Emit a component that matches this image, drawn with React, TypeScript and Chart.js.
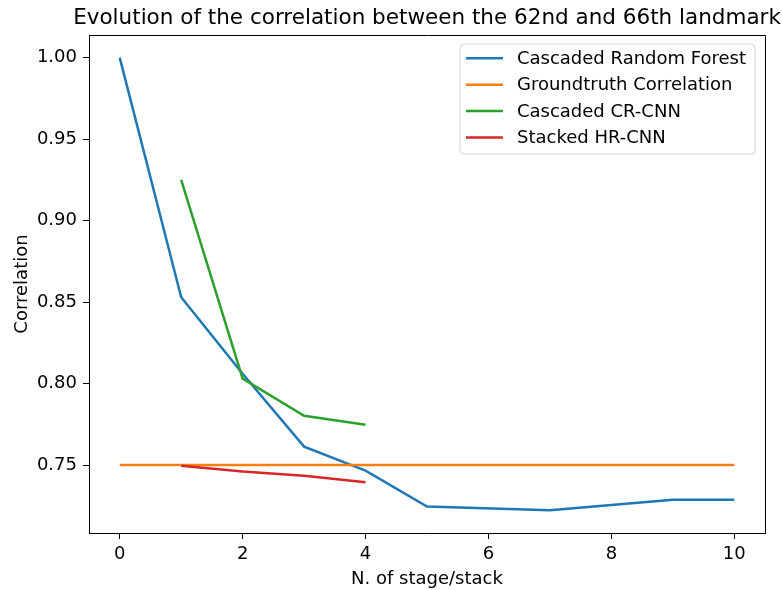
import React, { useEffect, useRef } from "react";
import { Chart, registerables } from "chart.js";

Chart.register(...registerables);

const TITLE = "Evolution of the correlation between the 62nd and 66th landmark";
const X_LABEL = "N. of stage/stack";
const Y_LABEL = "Correlation";

const seriesNames = [
  "Cascaded Random Forest",
  "Groundtruth Correlation",
  "Cascaded CR-CNN",
  "Stacked HR-CNN",
];
const seriesColors = ["#1f77b4", "#ff7f0e", "#2ca02c", "#d62728"];

const rfX = [0, 1, 2, 3, 4, 5, 7, 9, 10];
const rfY = [1.0, 0.853, 0.806, 0.7613, 0.7466, 0.7245, 0.7222, 0.7287, 0.7287];

const gtX = [0, 10];
const gtY = [0.75, 0.75];

const crX = [1, 2, 3, 4];
const crY = [0.925, 0.803, 0.7802, 0.7747];

const hrX = [1, 2, 3, 4];
const hrY = [0.7495, 0.746, 0.7434, 0.7395];

const xTicks = [0, 2, 4, 6, 8, 10];
const yTicks = [0.75, 0.8, 0.85, 0.9, 0.95, 1.0];

const FONT = "'DejaVu Sans', 'Liberation Sans', sans-serif";

function pts(xs: number[], ys: number[]) {
  return xs.map((x, i) => ({ x, y: ys[i] }));
}

const decorPlugin = {
  id: "decor",
  afterDraw(chart: any) {
    const { ctx, chartArea } = chart;
    const { left, right, top, bottom } = chartArea;
    ctx.save();
    // frame (top and right; left/bottom come from the axes borders)
    ctx.strokeStyle = "#000";
    ctx.lineWidth = 1;
    const L = Math.round(left - 0.5) + 0.5;
    const R = Math.round(right - 0.5) + 0.5;
    const T = Math.round(top - 0.5) + 0.5;
    const B = Math.round(bottom - 0.5) + 0.5;
    ctx.beginPath();
    ctx.moveTo(L, B);
    ctx.lineTo(L, T);
    ctx.lineTo(R, T);
    ctx.lineTo(R, B);
    ctx.stroke();
    // title
    ctx.fillStyle = "#000";
    ctx.font = `21.5px ${FONT}`;
    ctx.textAlign = "center";
    ctx.textBaseline = "alphabetic";
    ctx.fillText(TITLE, (left + right) / 2, 24);
    // x label
    ctx.font = `18px ${FONT}`;
    ctx.fillText(X_LABEL, (left + right) / 2, 584);
    // y label
    ctx.save();
    ctx.translate(27, (top + bottom) / 2);
    ctx.rotate(-Math.PI / 2);
    ctx.textAlign = "center";
    ctx.textBaseline = "alphabetic";
    ctx.fillText(Y_LABEL, 0, 0);
    ctx.restore();

    // legend
    ctx.font = `18px ${FONT}`;
    const datasets = chart.data.datasets;
    let maxW = 0;
    datasets.forEach((d: any) => {
      maxW = Math.max(maxW, ctx.measureText(d.label).width);
    });
    const boxW = 57 + maxW + 9;
    const boxR = right - 10;
    const boxL = boxR - boxW;
    const boxT = top + 9;
    const rowH = 26.4;
    const boxH = 110;
    const r = 4;
    ctx.beginPath();
    ctx.moveTo(boxL + r, boxT);
    ctx.lineTo(boxR - r, boxT);
    ctx.quadraticCurveTo(boxR, boxT, boxR, boxT + r);
    ctx.lineTo(boxR, boxT + boxH - r);
    ctx.quadraticCurveTo(boxR, boxT + boxH, boxR - r, boxT + boxH);
    ctx.lineTo(boxL + r, boxT + boxH);
    ctx.quadraticCurveTo(boxL, boxT + boxH, boxL, boxT + boxH - r);
    ctx.lineTo(boxL, boxT + r);
    ctx.quadraticCurveTo(boxL, boxT, boxL + r, boxT);
    ctx.closePath();
    ctx.fillStyle = "rgba(255,255,255,0.8)";
    ctx.fill();
    ctx.strokeStyle = "#d4d4d4";
    ctx.lineWidth = 1;
    ctx.stroke();
    datasets.forEach((d: any, i: number) => {
      const y = boxT + 14.3 + i * rowH;
      ctx.strokeStyle = d.borderColor;
      ctx.lineWidth = 2.5;
      ctx.beginPath();
      ctx.moveTo(boxL + 6, y);
      ctx.lineTo(boxL + 43, y);
      ctx.stroke();
      ctx.fillStyle = "#000";
      ctx.textAlign = "left";
      ctx.textBaseline = "middle";
      ctx.fillText(d.label, boxL + 57, y + 1);
    });
    ctx.restore();
  },
};

export default function App() {
  const canvasRef = useRef<HTMLCanvasElement | null>(null);

  useEffect(() => {
    document.body.style.margin = "0";
    const canvas = canvasRef.current;
    if (!canvas) return;
    const allX = [rfX, gtX, crX, hrX];
    const allY = [rfY, gtY, crY, hrY];
    const chart = new Chart(canvas, {
      type: "line",
      data: {
        datasets: seriesNames.map((name, i) => ({
          label: name,
          data: pts(allX[i], allY[i]),
          borderColor: seriesColors[i],
          backgroundColor: seriesColors[i],
          borderWidth: 2.5,
          pointRadius: 0,
          tension: 0,
          fill: false,
          order: 3 - i,
        })),
      },
      options: {
        animation: false,
        responsive: false,
        devicePixelRatio: 1,
        layout: { padding: { left: 0, right: 17, top: 35, bottom: 0 } },
        plugins: {
          legend: { display: false },
          title: { display: false },
          tooltip: { enabled: false },
        },
        scales: {
          x: {
            type: "linear",
            min: -0.5,
            max: 10.5,
            afterFit: (s: any) => {
              s.height = 57;
            },
            afterBuildTicks: (s: any) => {
              s.ticks = xTicks.map((v) => ({ value: v }));
            },
            grid: {
              drawOnChartArea: false,
              drawTicks: true,
              tickLength: 6,
              tickColor: "#000",
              tickWidth: 1,
            },
            border: { display: true, color: "#000", width: 1 },
            ticks: {
              color: "#000",
              padding: 5,
              maxRotation: 0,
              font: { family: FONT, size: 18 },
              callback: (v: any) => String(v),
            },
          },
          y: {
            type: "linear",
            min: 0.7083,
            max: 1.0139,
            afterFit: (s: any) => {
              s.width = 89;
            },
            afterBuildTicks: (s: any) => {
              s.ticks = yTicks.map((v) => ({ value: v }));
            },
            grid: {
              drawOnChartArea: false,
              drawTicks: true,
              tickLength: 6,
              tickColor: "#000",
              tickWidth: 1,
            },
            border: { display: true, color: "#000", width: 1 },
            ticks: {
              color: "#000",
              padding: 6,
              font: { family: FONT, size: 18 },
              callback: (v: any) => Number(v).toFixed(2),
            },
          },
        },
      },
      plugins: [decorPlugin],
    });
    return () => chart.destroy();
  }, []);

  return (
    <div style={{ position: "absolute", left: 0, top: 0, width: 782, height: 590, background: "#fff" }}>
      <canvas ref={canvasRef} width={782} height={590} style={{ width: 782, height: 590 }} />
    </div>
  );
}
